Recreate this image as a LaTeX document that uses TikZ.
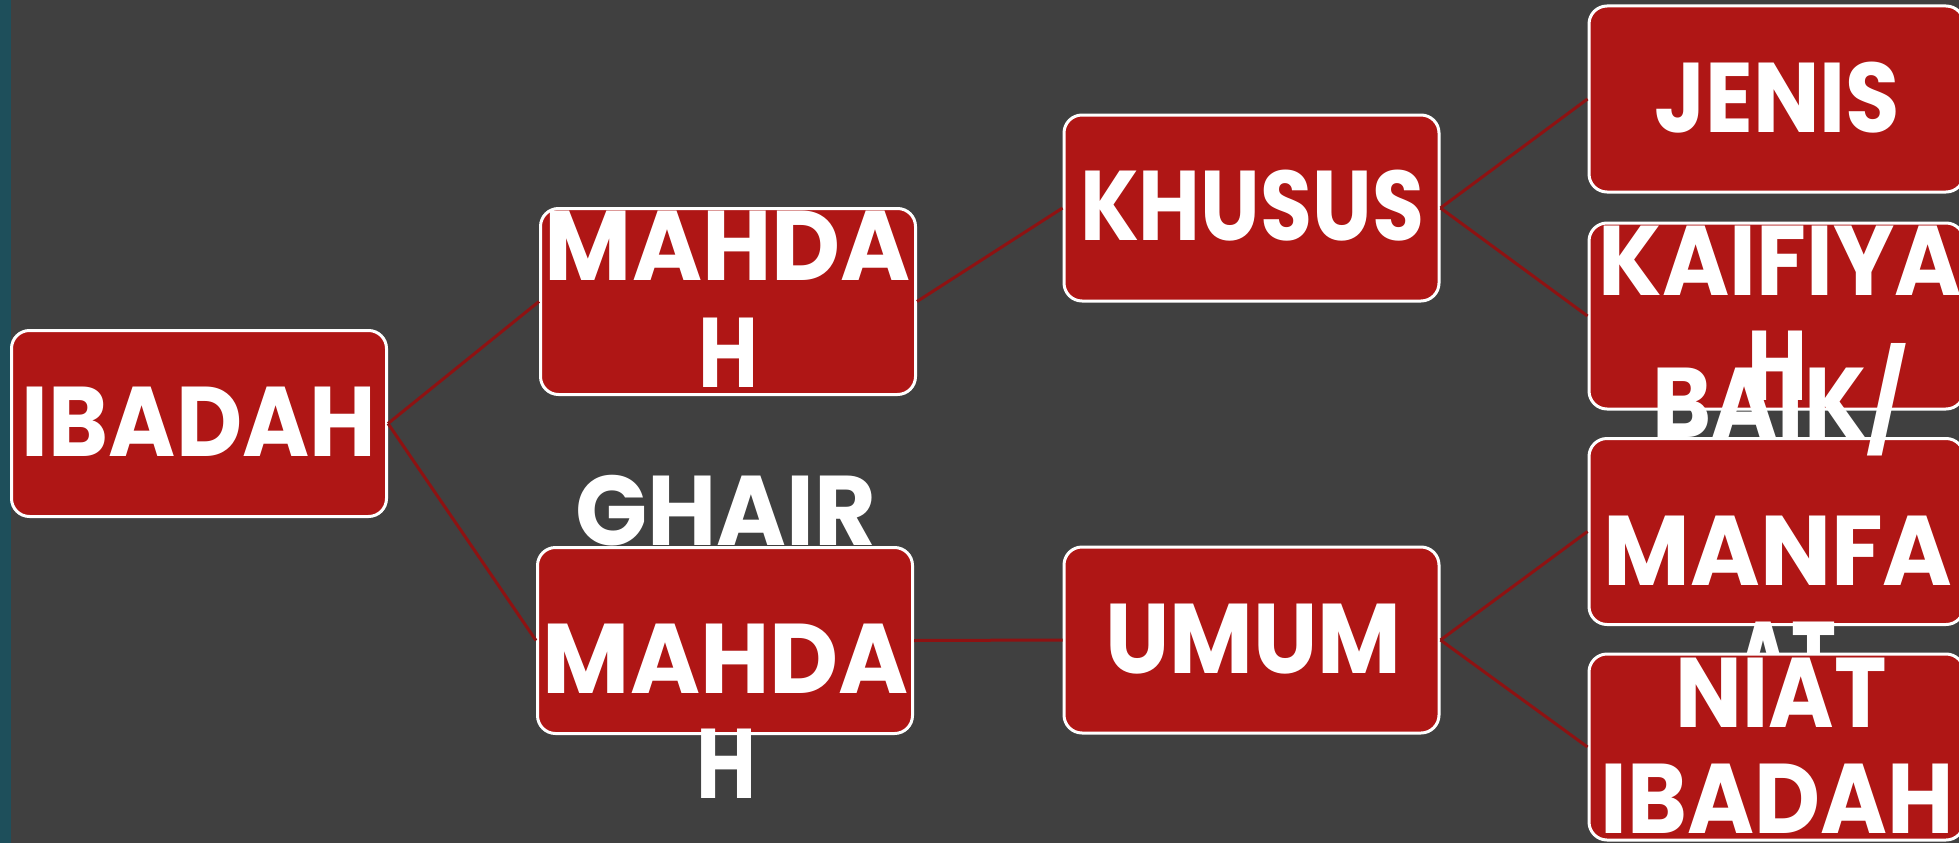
\documentclass[tikz,border=0pt]{standalone}
\usepackage{fontspec}
\usepackage{graphicx}
\setmainfont{Poppins}
\definecolor{pagebg}{HTML}{404040}
\definecolor{sidebar}{HTML}{1E4F5B}
\definecolor{boxred}{HTML}{AF1615}
\definecolor{linkred}{HTML}{8E1212}

% set a word to a given width, keeping its height
\newcommand\fitw[2]{\resizebox{#1}{\height}{#2}}

\begin{document}
\begin{tikzpicture}[x=1pt,y=-1pt,
  box/.style={draw=white, line width=3pt, fill=boxred, rounded corners=18pt,
              minimum width=375pt, minimum height=186pt, inner sep=0pt},
  lbl/.style={text=white, anchor=base, inner sep=0pt,
              font=\fontsize{99}{99}\selectfont\bfseries},
  link/.style={draw=linkred, line width=3pt}]

% canvas
\useasboundingbox (0,0) rectangle (1959,843);
\fill[pagebg] (0,0) rectangle (1959,843);
\fill[sidebar] (0,0) rectangle (11,843);
\clip (0,0) rectangle (1959,843);

% root
\node[box] (ibadah) at (199,423.5) {};
\node[lbl] (t-ibadah) at (199,456) {\fitw{354pt}{IBADAH}};

% first level
\node[box] (mahdah) at (728,301.5) {};
\node[lbl] (t-mahdah1) at (728,280) {\fitw{366pt}{MAHDA}};
\node[lbl] (t-mahdah2) at (728,387) {\fitw{60pt}{H}};

\node[box] (ghair) at (725,640.5) {};
\node[lbl] (t-ghair1) at (726,545) {\fitw{301pt}{GHAIR}};
\node[lbl] (t-ghair2) at (726,693) {\fitw{366pt}{MAHDA}};
\node[lbl] (t-ghair3) at (726,798) {\fitw{60pt}{H}};

% second level
\node[box] (khusus) at (1251.5,208) {};
\node[lbl] (t-khusus) at (1252,240) {\fitw{344pt}{KHUSUS}};

\node[box] (umum) at (1251.5,640) {};
\node[lbl] (t-umum) at (1253,673) {\fitw{296pt}{UMUM}};

% third level
\node[box] (jenis) at (1776.5,99) {};
\node[lbl] (t-jenis) at (1777,132) {\fitw{246pt}{JENIS}};

\node[box] (kaifiyah) at (1776.5,316) {};
\node[lbl] (t-kaif1) at (1780,295) {\fitw{363pt}{KAIFIYA}};
\node[lbl] (t-kaif2) at (1777,400) {\fitw{60pt}{H}};

\node[box] (manfaat) at (1776.5,531.5) {};
\node[lbl] (t-manf1) at (1780,437) {\fitw{255pt}{BAIK/}};
\node[lbl] (t-manf2) at (1778,585) {\fitw{349pt}{MANFA}};
\node[lbl] (t-manf3) at (1786,691) {\fitw{101pt}{AT}};

\node[box] (niat) at (1776.5,747) {};
\node[lbl] (t-niat1) at (1781,727) {\fitw{211pt}{NIAT}};
\node[lbl] (t-niat2) at (1777,833) {\fitw{353pt}{IBADAH}};

% connectors
\draw[link] (ibadah.east) -- (mahdah.west);
\draw[link] (ibadah.east) -- (ghair.west);
\draw[link] (mahdah.east) -- (khusus.west);
\draw[link] (ghair.east) -- (umum.west);
\draw[link] (khusus.east) -- (jenis.west);
\draw[link] (khusus.east) -- (kaifiyah.west);
\draw[link] (umum.east) -- (manfaat.west);
\draw[link] (umum.east) -- (niat.west);
\end{tikzpicture}
\end{document}
